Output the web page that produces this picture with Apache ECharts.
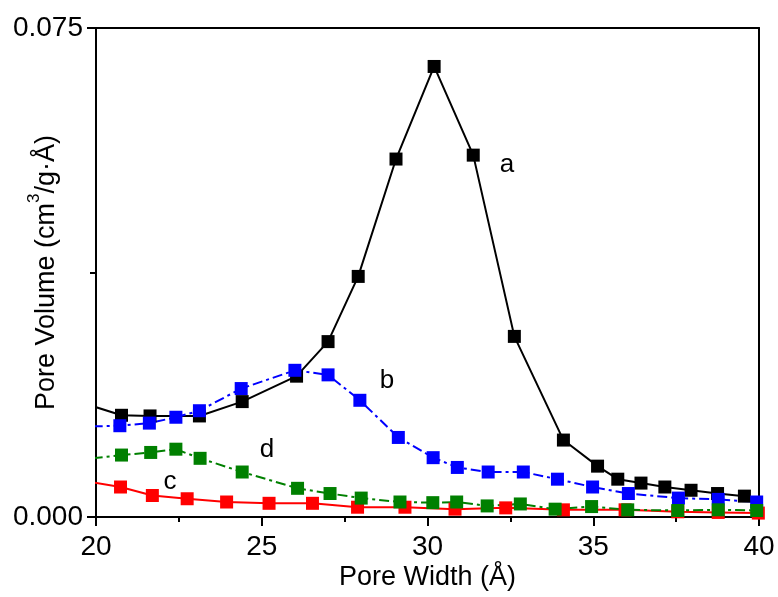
<!DOCTYPE html>
<html>
<head>
<meta charset="utf-8">
<script src="https://cdn.jsdelivr.net/npm/echarts@6/dist/echarts.min.js"></script>
<style>
  html, body { margin: 0; padding: 0; background: #fff; }
  #chart { width: 778px; height: 597px; }
</style>
</head>
<body>
<div id="chart"></div>
<script>
// pore width (Å) and pore volume (cm3/g·Å) for each sample
var aX = [19.9, 20.77, 21.63, 23.12, 24.41, 26.05, 27.0, 27.91, 29.05, 30.2, 31.38, 32.62, 34.1, 35.13, 35.74, 36.44, 37.16, 37.95, 38.75, 39.56];
var aY = [0.0170, 0.0156, 0.0155, 0.0155, 0.0177, 0.0216, 0.0269, 0.0369, 0.0549, 0.0691, 0.0555, 0.0277, 0.0118, 0.0078, 0.0058, 0.0052, 0.0046, 0.0041, 0.0036, 0.0032];

var bX = [19.9, 20.72, 21.61, 22.41, 23.12, 24.38, 26.0, 27.0, 27.96, 29.12, 30.17, 30.9, 31.83, 32.89, 33.92, 34.98, 36.06, 37.57, 38.77, 39.93];
var bY = [0.0139, 0.0140, 0.0144, 0.0153, 0.0163, 0.0197, 0.0225, 0.0218, 0.0179, 0.0122, 0.0091, 0.0076, 0.0069, 0.0069, 0.0058, 0.0046, 0.0036, 0.0029, 0.0027, 0.0023];

var cX = [19.8, 20.74, 21.7, 22.75, 23.94, 25.22, 26.53, 27.89, 29.32, 30.83, 32.36, 34.1, 35.96, 37.55, 38.77, 39.98];
var cY = [0.0054, 0.0046, 0.0033, 0.0028, 0.0023, 0.0021, 0.0021, 0.0015, 0.0015, 0.0012, 0.0014, 0.0011, 0.0011, 0.0008, 0.0007, 0.0006];

var dX = [19.9, 20.77, 21.65, 22.41, 23.14, 24.41, 26.08, 27.06, 28.0, 29.17, 30.16, 30.88, 31.8, 32.8, 33.85, 34.95, 36.04, 37.55, 38.77, 39.93];
var dY = [0.0090, 0.0095, 0.0099, 0.0104, 0.0090, 0.0069, 0.0044, 0.0036, 0.0029, 0.0023, 0.0022, 0.0023, 0.0017, 0.0020, 0.0012, 0.0016, 0.0011, 0.0010, 0.0011, 0.0010];

// curve letters, placed in data units
var tags = [
  { name: 'a', x: 32.4, y: 0.0540 },
  { name: 'b', x: 28.78, y: 0.0209 },
  { name: 'c', x: 22.23, y: 0.0054 },
  { name: 'd', x: 25.16, y: 0.0103 }
];

function pairs(xs, ys) {
  var out = [];
  for (var i = 0; i < xs.length; i++) out.push([xs[i], ys[i]]);
  return out;
}

var font = 'Liberation Sans, Arial, sans-serif';

function tagOf(n) {
  var t = tags.filter(function (k) { return k.name === n; })[0];
  return {
    symbol: 'circle',
    symbolSize: 2,
    silent: true,
    itemStyle: { color: 'rgba(0,0,0,0)' },
    label: { show: true, formatter: n, position: 'inside', color: '#000', fontSize: 26, fontFamily: font },
    data: [{ coord: [t.x, t.y] }]
  };
}

function lineSeries(name, xs, ys, color, dash) {
  return {
    name: name,
    type: 'line',
    data: pairs(xs, ys),
    clip: true,
    symbol: 'rect',
    symbolSize: 13,
    itemStyle: { color: color },
    lineStyle: { color: color, width: 2, type: dash },
    markPoint: tagOf(name),
    animation: false
  };
}

var chart = echarts.init(document.getElementById('chart'));

chart.setOption({
  backgroundColor: '#fff',
  animation: false,
  grid: { left: 96, right: 19, top: 28, bottom: 80, containLabel: false, outerBoundsMode: 'none' },
  xAxis: [{
    type: 'value',
    min: 20, max: 40, interval: 5,
    name: 'Pore Width (Å)',
    nameLocation: 'middle',
    nameGap: 47,
    nameMoveOverlap: false,
    nameTextStyle: { color: '#000', fontSize: 27, fontFamily: font },
    axisLine: { show: true, onZero: false, lineStyle: { color: '#000', width: 2 } },
    axisTick: { show: true, inside: false, length: 9, lineStyle: { color: '#000', width: 2 } },
    minorTick: { show: true, splitNumber: 2, length: 5, lineStyle: { color: '#000', width: 2 } },
    axisLabel: { color: '#000', fontSize: 28, fontFamily: font, margin: 16 },
    splitLine: { show: false }
  }, {
    type: 'value',
    position: 'top',
    min: 20, max: 40,
    axisLine: { show: true, onZero: false, lineStyle: { color: '#000', width: 2 } },
    axisTick: { show: false },
    axisLabel: { show: false },
    splitLine: { show: false }
  }],
  yAxis: [{
    type: 'value',
    min: 0, max: 0.075, interval: 0.075,
    name: '{t|Pore Volume (cm}{sup|3}{t|/g·Å)}',
    nameLocation: 'middle',
    nameGap: 36,
    nameMoveOverlap: false,
    nameTextStyle: {
      color: '#000', fontSize: 27, fontFamily: font,
      rich: {
        t: { fontSize: 27, fontFamily: font, color: '#000', lineHeight: 34, verticalAlign: 'bottom' },
        sup: { fontSize: 17, fontFamily: font, color: '#000', lineHeight: 17, verticalAlign: 'top' }
      }
    },
    axisLine: { show: true, onZero: false, lineStyle: { color: '#000', width: 2 } },
    axisTick: { show: true, inside: false, length: 9, lineStyle: { color: '#000', width: 2 } },
    minorTick: { show: true, splitNumber: 2, length: 6, lineStyle: { color: '#000', width: 2 } },
    axisLabel: {
      color: '#000', fontSize: 28, fontFamily: font, margin: 13,
      formatter: function (v) { return v.toFixed(3); }
    },
    splitLine: { show: false }
  }, {
    type: 'value',
    position: 'right',
    min: 0, max: 0.075,
    axisLine: { show: true, onZero: false, lineStyle: { color: '#000', width: 2 } },
    axisTick: { show: false },
    axisLabel: { show: false },
    splitLine: { show: false }
  }],
  series: [
    lineSeries('a', aX, aY, '#000000', 'solid'),
    lineSeries('b', bX, bY, '#0000ff', [10, 4, 3, 4]),
    lineSeries('c', cX, cY, '#ff0000', 'solid'),
    lineSeries('d', dX, dY, '#008000', [10, 4, 3, 4])
  ]
});
</script>
</body>
</html>
